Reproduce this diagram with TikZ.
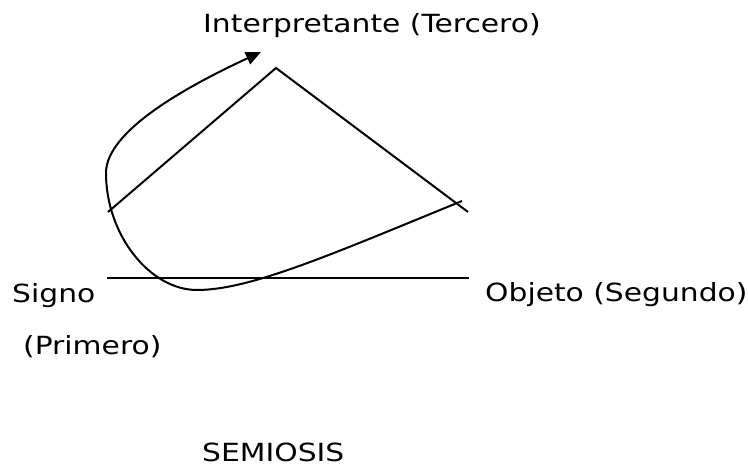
\documentclass[tikz,border=0pt]{standalone}
\usepackage{fontspec}
\setmainfont{DejaVu Sans}[FakeStretch=1.19]
\usetikzlibrary{arrows.meta}
\definecolor{figline}{RGB}{0,0,0}
\tikzset{
  side/.style ={draw=figline, line width=2pt, line cap=butt},
  loopc/.style ={draw=figline, line width=2pt, -{Triangle[length=15pt,width=13pt]}},
  lab/.style ={font=\fontsize{25}{30}\selectfont, inner sep=0pt, anchor=base west},
}

\begin{document}
\begin{tikzpicture}[x=1pt,y=-1pt]
  \useasboundingbox (0,0) rectangle (748,470);
  % labels
  \node[lab] (interp) at (203,33) {Interpretante (Tercero)};
  \node[lab] (signo) at (12,303) {Signo};
  \node[lab] (primero) at (23,355) {(Primero)};
  \node[lab] (objeto) at (485,302) {Objeto (Segundo)};
  \node[lab] (semio) at (202,462) {SEMIOSIS};
  % triangle
  \coordinate (sL) at (108,212);
  \coordinate (apex) at (276,68);
  \coordinate (sR) at (468,212);
  \coordinate (bL) at (107,278);
  \coordinate (bR) at (469,278);
  \draw[side] (sL) -- (apex) -- (sR);
  \draw[side] (bL) -- (bR);
  % semiosis loop
  \coordinate (c0) at (462,201);
  \coordinate (c1) at (197,290);
  \coordinate (c2) at (106,173);
  \coordinate (c3) at (261,52);
  \draw[loopc] (c0) .. controls (330,255) and (250,290) .. (c1)
    .. controls (150,290) and (106,235) .. (c2)
    .. controls (106,130) and (190,85) .. (c3);
\end{tikzpicture}
\end{document}
